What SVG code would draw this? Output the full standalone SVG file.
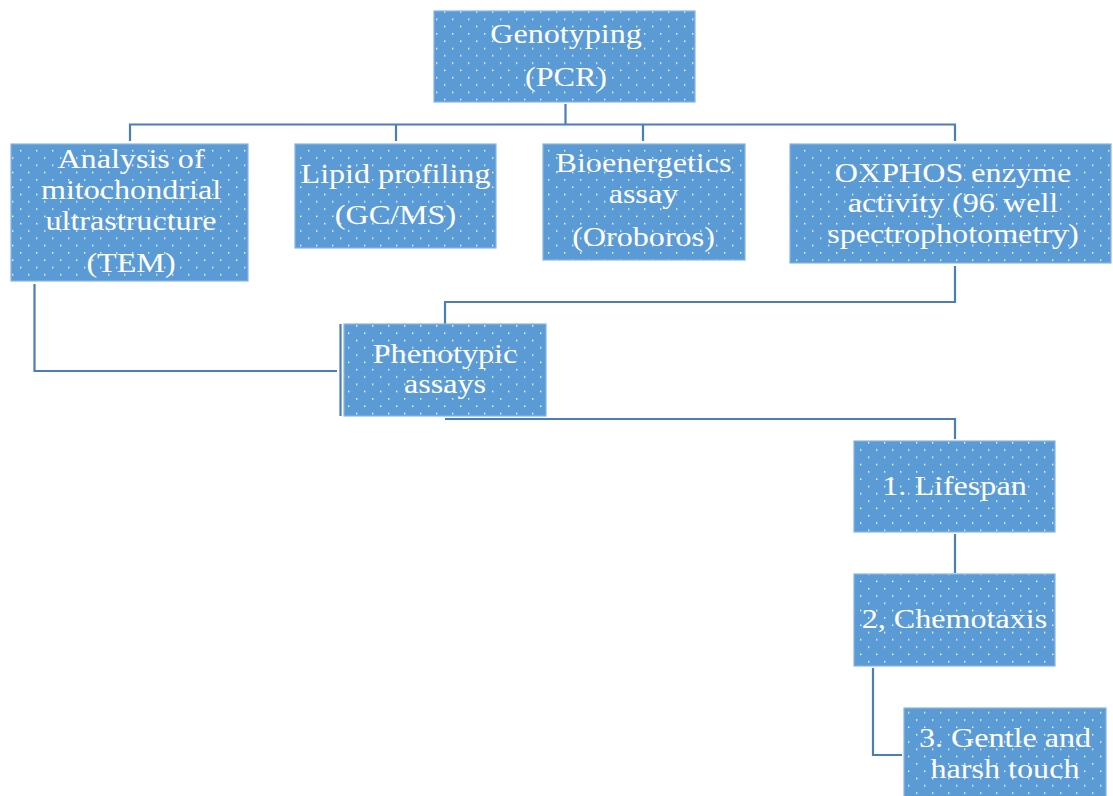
<svg xmlns="http://www.w3.org/2000/svg" width="1113" height="796" viewBox="0 0 1113 796">
<defs>
<pattern id="dots" patternUnits="userSpaceOnUse" width="16" height="14.6">
<rect width="16" height="14.6" fill="#5b9bd5"/>
<rect x="4" y="4" width="1.4" height="1.4" fill="#ffffff"/>
<rect x="12" y="11.3" width="1.4" height="1.4" fill="#ffffff"/>
</pattern>
<style>
.box{fill:url(#dots);stroke:#86b5e3;stroke-width:1.2}
.lbl{font-family:"Liberation Serif","Times New Roman",serif;font-size:27px;fill:#ffffff;text-anchor:middle}
.con{fill:none;stroke:#4a7fb3;stroke-width:2.2}
</style>
</defs>
<rect width="1113" height="796" fill="#ffffff"/>
<g id="connectors">
<path class="con" d="M565.5 104 V124.5 M130 141 V124.5 H955 V141 M396 124.5 V141 M643 124.5 V141"/>
<path class="con" d="M34.5 284 V371 H337"/>
<path class="con" d="M340.5 324 V416"/>
<path class="con" d="M955 266 V302 H445 V324"/>
<path class="con" d="M445 419 H955 V439"/>
<path class="con" d="M955 534 V573"/>
<path class="con" d="M873 668 V755 H902"/>
</g>
<g id="genotyping">
<rect class="box" x="434" y="11" width="261" height="91"/>
<text class="lbl" transform="translate(566 43) scale(1.19 1)">Genotyping</text>
<text class="lbl" transform="translate(566 86) scale(1.19 1)">(PCR)</text>
</g>
<g id="analysis">
<rect class="box" x="11" y="144" width="237" height="137"/>
<text class="lbl" transform="translate(131 168) scale(1.19 1)">Analysis of</text>
<text class="lbl" transform="translate(131 199) scale(1.19 1)">mitochondrial</text>
<text class="lbl" transform="translate(131 230) scale(1.19 1)">ultrastructure</text>
<text class="lbl" transform="translate(131 272) scale(1.19 1)">(TEM)</text>
</g>
<g id="lipid">
<rect class="box" x="295" y="144" width="201" height="104"/>
<text class="lbl" transform="translate(395.5 183) scale(1.19 1)">Lipid profiling</text>
<text class="lbl" transform="translate(395.5 224) scale(1.19 1)">(GC/MS)</text>
</g>
<g id="bioenergetics">
<rect class="box" x="543" y="144" width="202" height="116"/>
<text class="lbl" transform="translate(643.5 172) scale(1.19 1)">Bioenergetics</text>
<text class="lbl" transform="translate(643.5 203) scale(1.19 1)">assay</text>
<text class="lbl" transform="translate(643.5 246) scale(1.19 1)">(Oroboros)</text>
</g>
<g id="oxphos">
<rect class="box" x="790" y="144" width="321" height="119"/>
<text class="lbl" transform="translate(953 182) scale(1.19 1)">OXPHOS enzyme</text>
<text class="lbl" transform="translate(953 212) scale(1.19 1)">activity (96 well</text>
<text class="lbl" transform="translate(953 243) scale(1.19 1)">spectrophotometry)</text>
</g>
<g id="phenotypic">
<rect class="box" x="344" y="324" width="202" height="92"/>
<text class="lbl" transform="translate(445 363) scale(1.19 1)">Phenotypic</text>
<text class="lbl" transform="translate(445 393) scale(1.19 1)">assays</text>
</g>
<g id="lifespan">
<rect class="box" x="854" y="441" width="201" height="91"/>
<text class="lbl" transform="translate(954.5 495) scale(1.19 1)">1. Lifespan</text>
</g>
<g id="chemotaxis">
<rect class="box" x="854" y="574" width="201" height="92"/>
<text class="lbl" transform="translate(954.5 628) scale(1.19 1)">2, Chemotaxis</text>
</g>
<g id="touch">
<rect class="box" x="904" y="708" width="202" height="92"/>
<text class="lbl" transform="translate(1005 747) scale(1.19 1)">3. Gentle and</text>
<text class="lbl" transform="translate(1005 778) scale(1.19 1)">harsh touch</text>
</g>
</svg>
